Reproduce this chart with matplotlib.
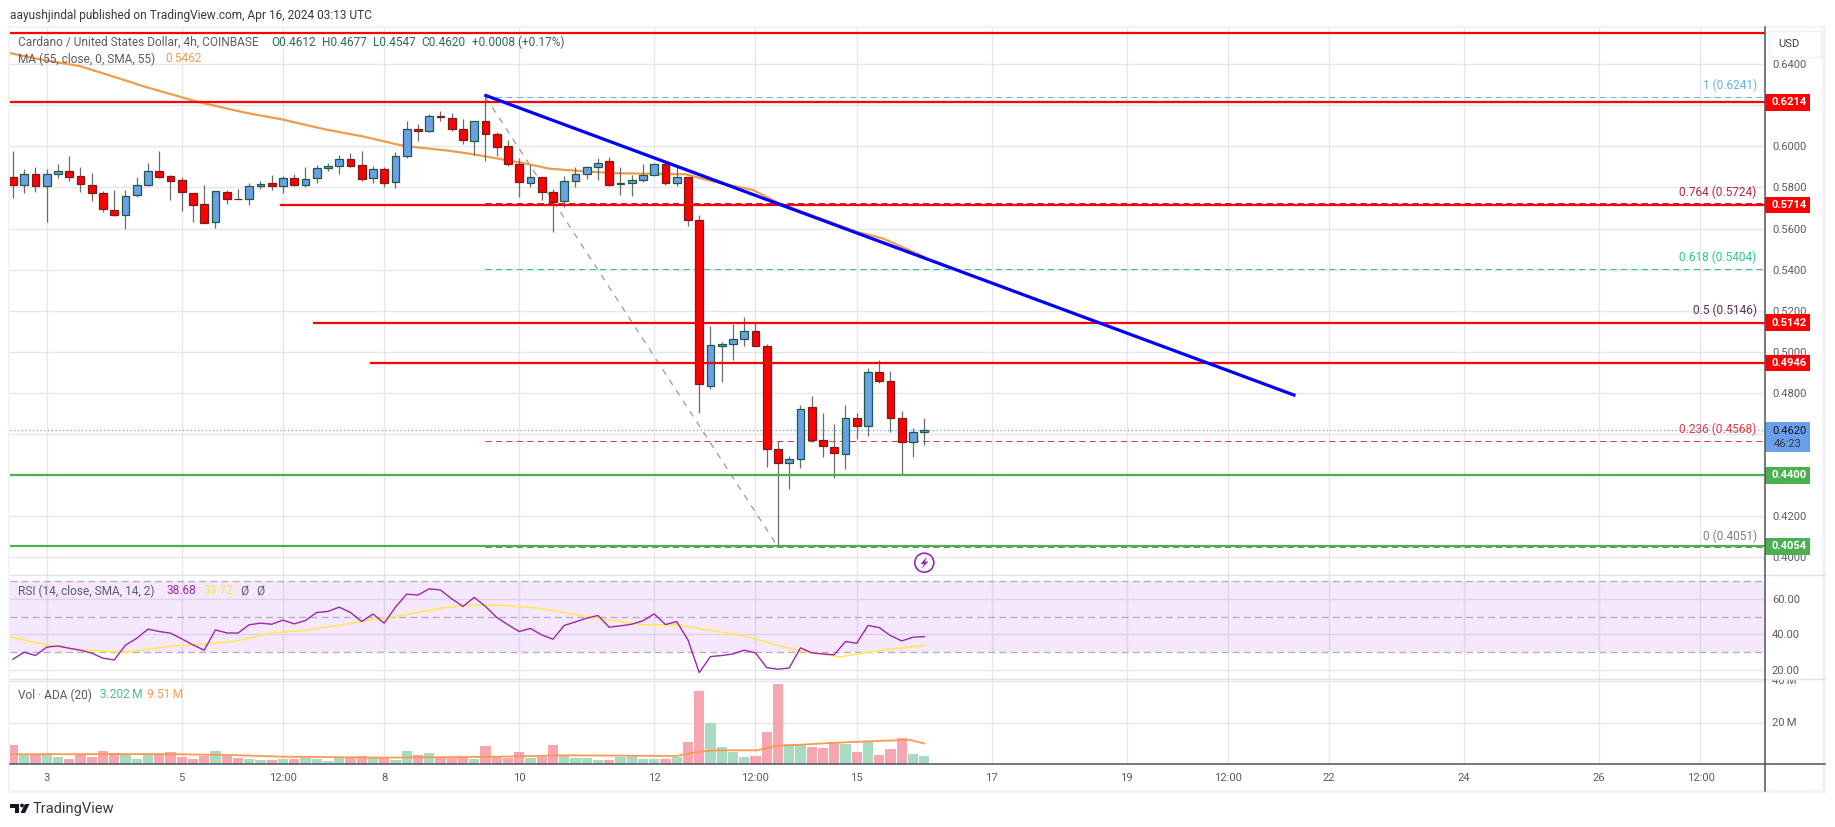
import matplotlib
matplotlib.use("Agg")
import matplotlib.pyplot as plt
import numpy as np
from matplotlib.lines import Line2D
from matplotlib.patches import Circle, Polygon, Rectangle
from matplotlib.ticker import FormatStrFormatter
from matplotlib.transforms import Bbox, IdentityTransform, TransformedBbox

plt.rcParams["font.family"] = ["Roboto", "DejaVu Sans"]

# candles, the first one is 3 bars before the "3" tick
opens = [.5852, .5813, .5867, .5809, .5867, .5882, .5857, .5813, .5775, .5692, .5667, .5765, .5813, .5882,
         .5856, .5838, .5775, .5721, .5633, .5779, .5745, .5745, .5809, .5820, .5809, .5844, .5813, .5844,
         .5893, .5903, .5937, .5908, .5844, .5888, .5825, .5951, .6083, .6073, .6148, .6136, .6083, .6024,
         .6122, .6058, .6000, .5912, .5820, .5849, .5776, .5732, .5830, .5864, .5898, .5927, .5819, .5820,
         .5835, .5859, .5912, .5820, .5849, .5639, .4836, .5029, .5036, .5060, .5099, .5026, .4525, .4461,
         .4476, .4729, .4573, .4539, .4505, .4680, .4637, .4904, .4856, .4680, .4559, .4612]
highs = [.5976, .5888, .5898, .5888, .5912, .5951, .5898, .5869, .5781, .5786, .5789, .5849, .5921, .5976,
         .5862, .5852, .5775, .5810, .5784, .5789, .5791, .5820, .5833, .5861, .5856, .5865, .5899, .5909,
         .5919, .5958, .5968, .5977, .5904, .5898, .5972, .6123, .6109, .6157, .6172, .6162, .6133, .6122,
         .6241, .6068, .6029, .5943, .5909, .5849, .5791, .5854, .5898, .5903, .5943, .5948, .5898, .5859,
         .5914, .5917, .5927, .5898, .5849, .5665, .5125, .5047, .5134, .5169, .5144, .5040, .4564, .4495,
         .4739, .4784, .4701, .4648, .4740, .4701, .4920, .4959, .4906, .4711, .4628, .4677]
lows = [.5749, .5773, .5778, .5632, .5846, .5830, .5778, .5734, .5680, .5661, .5598, .5753, .5809, .5844,
        .5739, .5685, .5632, .5629, .5603, .5719, .5744, .5715, .5792, .5788, .5775, .5807, .5804, .5823,
        .5882, .5867, .5901, .5833, .5823, .5804, .5799, .5945, .6028, .6071, .6125, .6073, .6013, .5956,
        .5927, .5955, .5903, .5755, .5804, .5739, .5585, .5706, .5804, .5843, .5838, .5808, .5765, .5760,
        .5828, .5859, .5810, .5809, .5614, .4703, .4820, .4854, .4960, .5029, .5026, .4440, .4051, .4333,
        .4435, .4562, .4489, .4387, .4431, .4575, .4591, .4849, .4611, .4400, .4489, .4547]
closes = [.5812, .5867, .5809, .5867, .5880, .5852, .5818, .5775, .5697, .5667, .5760, .5813, .5882, .5852,
          .5833, .5779, .5716, .5629, .5784, .5745, .5744, .5809, .5818, .5809, .5844, .5813, .5839, .5893,
          .5903, .5937, .5903, .5839, .5888, .5820, .5951, .6083, .6076, .6146, .6141, .6083, .6029, .6122,
          .6058, .5995, .5912, .5825, .5849, .5776, .5728, .5830, .5864, .5898, .5917, .5810, .5821, .5835,
          .5859, .5912, .5820, .5849, .5640, .4841, .5031, .5036, .5060, .5099, .5026, .4529, .4461, .4476,
          .4724, .4573, .4542, .4510, .4680, .4637, .4904, .4856, .4680, .4559, .4612, .4620]
volumes = [9.2, 4.4, 4.4, 5.4, 3.5, 2.5, 4.4, 3.5, 6.3, 5.4, 5.1, 2.5, 5.2, 4.4, 5.9, 3.5, 2.5, 4.0, 6.3, 4.0, 3.0,
           2.5, 2.1, 2.1, 2.5, 2.5, 3.0, 2.5, 1.6, 3.0, 3.5, 4.0, 3.0, 3.5, 2.1, 6.3, 4.4, 5.4, 3.5, 3.5, 3.5,
           2.5, 8.7, 3.5, 3.0, 5.9, 3.0, 3.5, 9.2, 4.0, 3.0, 3.0, 2.1, 2.1, 3.5, 4.0, 2.5, 2.5, 2.5, 3.5, 10.6,
           34.9, 19.7, 8.3, 5.9, 3.5, 4.0, 15.4, 38.3, 9.7, 9.2, 8.3, 7.8, 10.6, 9.7, 5.9, 10.8, 4.4, 7.3, 12.5,
           4.9, 4.0]
rsi_values = [26.0, 30.0, 28.1, 32.8, 33.5, 32.2, 31.1, 29.4, 26.6, 25.6, 33.9, 37.8, 42.9, 41.6, 40.7, 37.5, 34.1,
              31.1, 42.5, 40.8, 40.7, 45.4, 46.3, 45.7, 48.0, 45.9, 47.8, 52.3, 52.9, 55.3, 52.3, 47.2, 51.4, 46.3,
              55.3, 62.6, 62.1, 65.6, 64.9, 60.0, 55.7, 60.8, 55.7, 49.5, 45.4, 41.6, 43.3, 39.7, 37.3, 45.0, 47.0,
              49.1, 50.6, 44.0, 44.8, 45.7, 47.6, 51.5, 45.5, 47.2, 36.9, 18.5, 27.5, 28.1, 29.0, 31.1, 29.6, 21.3,
              20.4, 21.1, 32.4, 29.6, 29.0, 28.5, 36.0, 35.0, 45.0, 43.8, 39.3, 36.3, 38.4, 38.7]

# lines read at a few bars only
ma_x = [-3.2, -0.6, 2.9, 6.4, 8.9, 13.4, 17.6, 20.9, 24.7, 28.2, 31.4, 32.4, 35.7, 37.7, 42.2, 44.7, 47.3, 50.5,
        56.8, 59.3, 62.8, 65.1, 72, 74.3, 78]
ma_values = [.6453, .6423, .6391, .6331, .6287, .6217, .6164, .6131, .6083, .6047, .6006, .5998, .5979, .5963,
             .5920, .5891, .5880, .5869, .5864, .5828, .5787, .5723, .5584, .5552, .5462]
rsi_ma_x = [-3.2, -1.2, 0.9, 2.9, 4.9, 6.9, 8.9, 11, 13.9, 16.9, 19.9, 23, 25.9, 28.9, 31.9, 35, 37.9, 40.3, 43.9,
            48.9, 53, 56, 58, 61.9, 65.8, 67.9, 70.5, 74.4, 78]
rsi_ma_values = [38.6, 35.6, 33.1, 31.3, 30.7, 29.8, 31.6, 33.3, 34.5, 36.3, 40.7, 42.2, 45.0, 48.2, 51.0, 54.7, 56.6,
                 56.4, 54.6, 49.1, 45.4, 45.4, 43.3, 39.3, 32.4, 29.8, 27.3, 31.3, 33.7]
vol_ma_x = [-3.2, 10.7, 16.6, 21, 29.9, 40.3, 46.2, 56, 58, 59.6, 63.1, 64.9, 67, 70, 72.9, 76.7, 78]
vol_ma_values = [4.8, 4.9, 4.4, 3.65, 3.2, 3.65, 4.3, 4.0, 6.0, 6.7, 6.7, 8.9, 9.4, 10.3, 11.0, 11.7, 10.0]

level_prices = [.6551, .6214, .5714, .5142, .4946, .4400, .4054]
level_starts = [None, None, 20.8, 23.8, 28.8, None, None]
level_colors = ["#ff0000", "#ff0000", "#ff0000", "#ff0000", "#ff0000", "#4caf50", "#4caf50"]
level_tags = [None, "0.6214", "0.5714", "0.5142", "0.4946", "0.4400", "0.4054"]

fib_prices = [.6241, .5724, .5404, .5146, .4568, .4051]
fib_labels = ["1 (0.6241)", "0.764 (0.5724)", "0.618 (0.5404)", "0.5 (0.5146)", "0.236 (0.4568)", "0 (0.4051)"]
fib_colors = ["#64b5e6", "#b0283f", "#26c98f", "#5d2f52", "#e53945", "#808080"]

trend_x = [38.9, 111]
trend_values = [.6250, .4787]

time_ticks = [0, 12, 21, 30, 42, 54, 63, 72, 84, 96, 105, 114, 126, 138, 147]
time_labels = ["3", "5", "12:00", "8", "10", "12", "12:00", "15", "17", "19", "12:00", "22", "24", "26", "12:00"]
price_ticks = [.40, .42, .44, .46, .48, .50, .52, .54, .56, .58, .60, .62, .64]
# .44, .46 and .62 sit fully behind the value tags
price_labels = ["0.4000", "0.4200", "", "", "0.4800", "0.5000", "0.5200", "0.5400", "0.5600", "0.5800", "0.6000", "",
                "0.6400"]

W, H = 1835, 827
GRID = "#e6e7eb"
TEXT = "#5a5d66"
AXIS = "#50535e"
LEGEND_SIZE = 8.6
TICK_SIZE = 8.1

fig = plt.figure(figsize=(W / 100, H / 100), dpi=100, facecolor="white")


def panel(top, bottom):
    a = fig.add_axes([10 / W, 1 - bottom / H, 1755.3 / W, (bottom - top) / H])
    a.set_xlim(-3.262, 152.76)
    a.set_axisbelow(True)
    for s in a.spines.values():
        s.set_visible(False)
    a.set_xticks(time_ticks)
    a.set_xticklabels([])
    a.grid(True, color=GRID, lw=1.0)
    a.yaxis.tick_right()
    a.tick_params(length=0, labelsize=TICK_SIZE, labelcolor=TEXT, pad=4.8)
    return a


def box(x0, y0, x1, y1, color, z=6, **kw):
    fig.add_artist(Rectangle((x0 / W, 1 - y1 / H), (x1 - x0) / W, (y1 - y0) / H, transform=fig.transFigure,
                             facecolor=color, edgecolor=kw.pop("ec", "none"), zorder=z, **kw))


def rule(x0, y0, x1, y1, color, lw=1.0, z=7):
    fig.add_artist(Line2D([x0 / W, x1 / W], [1 - y0 / H, 1 - y1 / H], transform=fig.transFigure,
                          color=color, lw=lw, zorder=z))


def label(x, y, s, color=TEXT, size=LEGEND_SIZE, **kw):
    fig.text(x / W, 1 - y / H, s, color=color, fontsize=size, va="center", zorder=9, **kw)


x = np.arange(-3, 79)
opens, highs, lows, closes, volumes = map(np.array, (opens, highs, lows, closes, volumes))
up = closes >= opens

# main price panel
ax = panel(28, 575)
ax.set_ylim(.39139, .65757)
ax.set_yticks(price_ticks)
ax.set_yticklabels(price_labels)

ax.plot(ma_x, ma_values, color="#ef9c4d", lw=1.6, zorder=3)
ax.vlines(x, lows, highs, color="#6b6b6b", lw=0.9, zorder=4)
ax.bar(x[up], (closes - opens)[up], bottom=opens[up], width=0.7, color="#6a9fea", edgecolor="#1f5b3f", lw=0.9, zorder=5)
ax.bar(x[~up], (opens - closes)[~up], bottom=closes[~up], width=0.7, color="#ff0000", edgecolor="#7d1c1c", lw=0.9,
       zorder=5)

ax.axhline(closes[-1], color="#6a9fea", lw=0.9, ls=(0, (1, 2)), zorder=2)
for price, text, col in zip(fib_prices, fib_labels, fib_colors):
    ax.plot([39, 152.76], [price, price], color=col, lw=0.75, ls=(0, (6, 4)), zorder=2)
    ax.annotate(text, xy=(0.9951, price), xycoords=ax.get_yaxis_transform(), xytext=(0, 11),
                textcoords="offset pixels", color=col, fontsize=8.6, ha="right", va="center", zorder=8)
ax.plot([39, 65], [fib_prices[0], fib_prices[-1]], color="#9a9a9a", lw=0.9, ls=(0, (5, 5)), zorder=2)

for price, start, col, tag in zip(level_prices, level_starts, level_colors, level_tags):
    ax.plot([-3.262 if start is None else start, 152.76], [price, price], color=col, lw=1.6, zorder=6)
    if tag is None:
        continue
    ax.add_patch(Rectangle((1, price - 8.4 / 2055), 44.4 / 1755.3, 16.8 / 2055, transform=ax.get_yaxis_transform(),
                           facecolor=col, edgecolor="none", clip_on=False, zorder=10))
    ax.annotate(tag, xy=(1, price), xycoords=ax.get_yaxis_transform(), xytext=(24, 0), textcoords="offset pixels",
                color="white", fontsize=TICK_SIZE, fontweight="bold", ha="center", va="center",
                annotation_clip=False, zorder=11)

ax.plot(trend_x, trend_values, color="#0000ff", lw=2.3, zorder=7, solid_capstyle="butt")

ax.add_patch(Rectangle((1, closes[-1] - 22 / 2055), 44.4 / 1755.3, 30 / 2055, transform=ax.get_yaxis_transform(),
                       facecolor="#6a9fea", edgecolor="none", clip_on=False, zorder=10))
ax.annotate("0.4620", xy=(1, closes[-1]), xycoords=ax.get_yaxis_transform(), xytext=(24, -1),
            textcoords="offset pixels", color="#131722", fontsize=TICK_SIZE, ha="center", va="center",
            annotation_clip=False, zorder=11)
ax.annotate("46:23", xy=(1, closes[-1]), xycoords=ax.get_yaxis_transform(), xytext=(22, -14),
            textcoords="offset pixels", color="#363a45", fontsize=TICK_SIZE, ha="center", va="center",
            annotation_clip=False, zorder=11)

# volume panel goes first so the RSI panel sits on the clipped 40 M label
ax_vol = panel(680, 764.3)
ax_vol.set_ylim(0, 40.4)
ax_vol.set_yticks([20, 40])
ax_vol.set_yticklabels(["20\u2009M", "40\u2009M"], va="center")
ax_vol.set_xticklabels(time_labels)
ax_vol.tick_params(axis="x", pad=6)
ax_vol.bar(x, volumes, width=0.9, color=np.where(up, "#a8dbc2", "#f5a6ae"), zorder=3)
ax_vol.plot(vol_ma_x, vol_ma_values, color="#ff9850", lw=1.3, zorder=4)
clip = TransformedBbox(Bbox([[1766, H - 792], [1826, H - 680]]), IdentityTransform())
for lab in ax_vol.get_yticklabels():
    lab.set_clip_box(clip)
    lab.set_clip_on(True)

# RSI panel
ax_rsi = panel(575.3, 679)
ax_rsi.set_ylim(14.9, 73.2)
ax_rsi.set_yticks([20, 40, 60])
ax_rsi.yaxis.set_major_formatter(FormatStrFormatter("%.2f"))
ax_rsi.axhspan(30, 70, color="#a020f0", alpha=0.1, lw=0, zorder=1)
for level in [30, 50, 70]:
    ax_rsi.axhline(level, color="#b9aec2", lw=1.0, ls=(0, (5, 3)), zorder=2)
ax_rsi.plot(rsi_ma_x, rsi_ma_values, color="#ffe94d", lw=1.1, zorder=3)
ax_rsi.plot(x, rsi_values, color="#9c27b0", lw=1.0, zorder=4)

# frame and separators
box(8, 26, 1826, 28, "#f0f3fa", z=1)
box(8, 26, 10, 793, "#f0f3fa", z=1)
box(1822, 26, 1826, 793, "#f0f3fa", z=1)
box(8, 790, 1826, 793, "#f0f3fa", z=1)
rule(10, 575.3, 1825, 575.3, "#e0e3eb")
rule(10, 679.3, 1825, 679.3, "#e0e3eb")
rule(10, 764.3, 1825, 764.3, AXIS, lw=1.1)
rule(1765.3, 27, 1765.3, 791, AXIS, lw=1.1)
box(1769, 30.7, 1821, 57, "white", z=8, ec="#eef0f5", lw=1)
label(1778, 44, "USD", color="#363a45", size=8)

# header and legends
label(10.3, 15, "aayushjindal published on TradingView.com, Apr 16, 2024 03:13 UTC", color="#363a45")
label(18, 42, "Cardano / United States Dollar, 4h, COINBASE")
for px_x, s in [(271, "O0.4612"), (321.5, "H0.4677"), (372.5, "L0.4547"), (421.5, "C0.4620"),
                (472, "+0.0008 (+0.17%)")]:
    label(px_x, 42, s, color="#2b6a55")
label(18, 59, "MA (55, close, 0, SMA, 55)")
label(165, 59, "0.5462", color="#ef9c4d")
label(18, 591, "RSI (14, close, SMA, 14, 2)")
label(166, 591, "38.68", color="#9c27b0")
label(203, 591, "33.72", color="#fbe64a")
label(240.7, 591, "\u00d8")
label(256, 591, "\u00d8")
label(18, 695, "Vol \u00b7 ADA (20)")
label(100, 695, "3.202\u2009M", color="#4dbb8c")
label(147, 695, "9.51\u2009M", color="#ff9850")

# lightning icon
fig.add_artist(Circle((924.3, H - 562.7), 9.5, transform=IdentityTransform(), facecolor="white",
                      edgecolor="#9c27b0", lw=1.2, zorder=8))
fig.add_artist(Polygon(np.array([[927, 556.5], [920.5, 564], [924, 564], [921.5, 569], [928.5, 561.5], [925, 561.5]])
                       * [1, -1] + [0, H], transform=IdentityTransform(), facecolor="#9c27b0", edgecolor="none",
                       zorder=9))

# TradingView logo
box(10, 804, 19, 807.5, "#131722", z=8)
box(15, 804, 19, 813, "#131722", z=8)
fig.add_artist(Circle((22, H - 805.5), 1.9, transform=IdentityTransform(), facecolor="#131722", edgecolor="none",
                      zorder=8))
fig.add_artist(Polygon(np.array([[25, 804], [29.5, 804], [25, 813], [20.5, 813]]) * [1, -1] + [0, H],
                       transform=IdentityTransform(), facecolor="#131722", edgecolor="none", zorder=8))
label(33, 809, "TradingView", color="#363a45", size=10.5)

fig.savefig("out.png", dpi=100)
